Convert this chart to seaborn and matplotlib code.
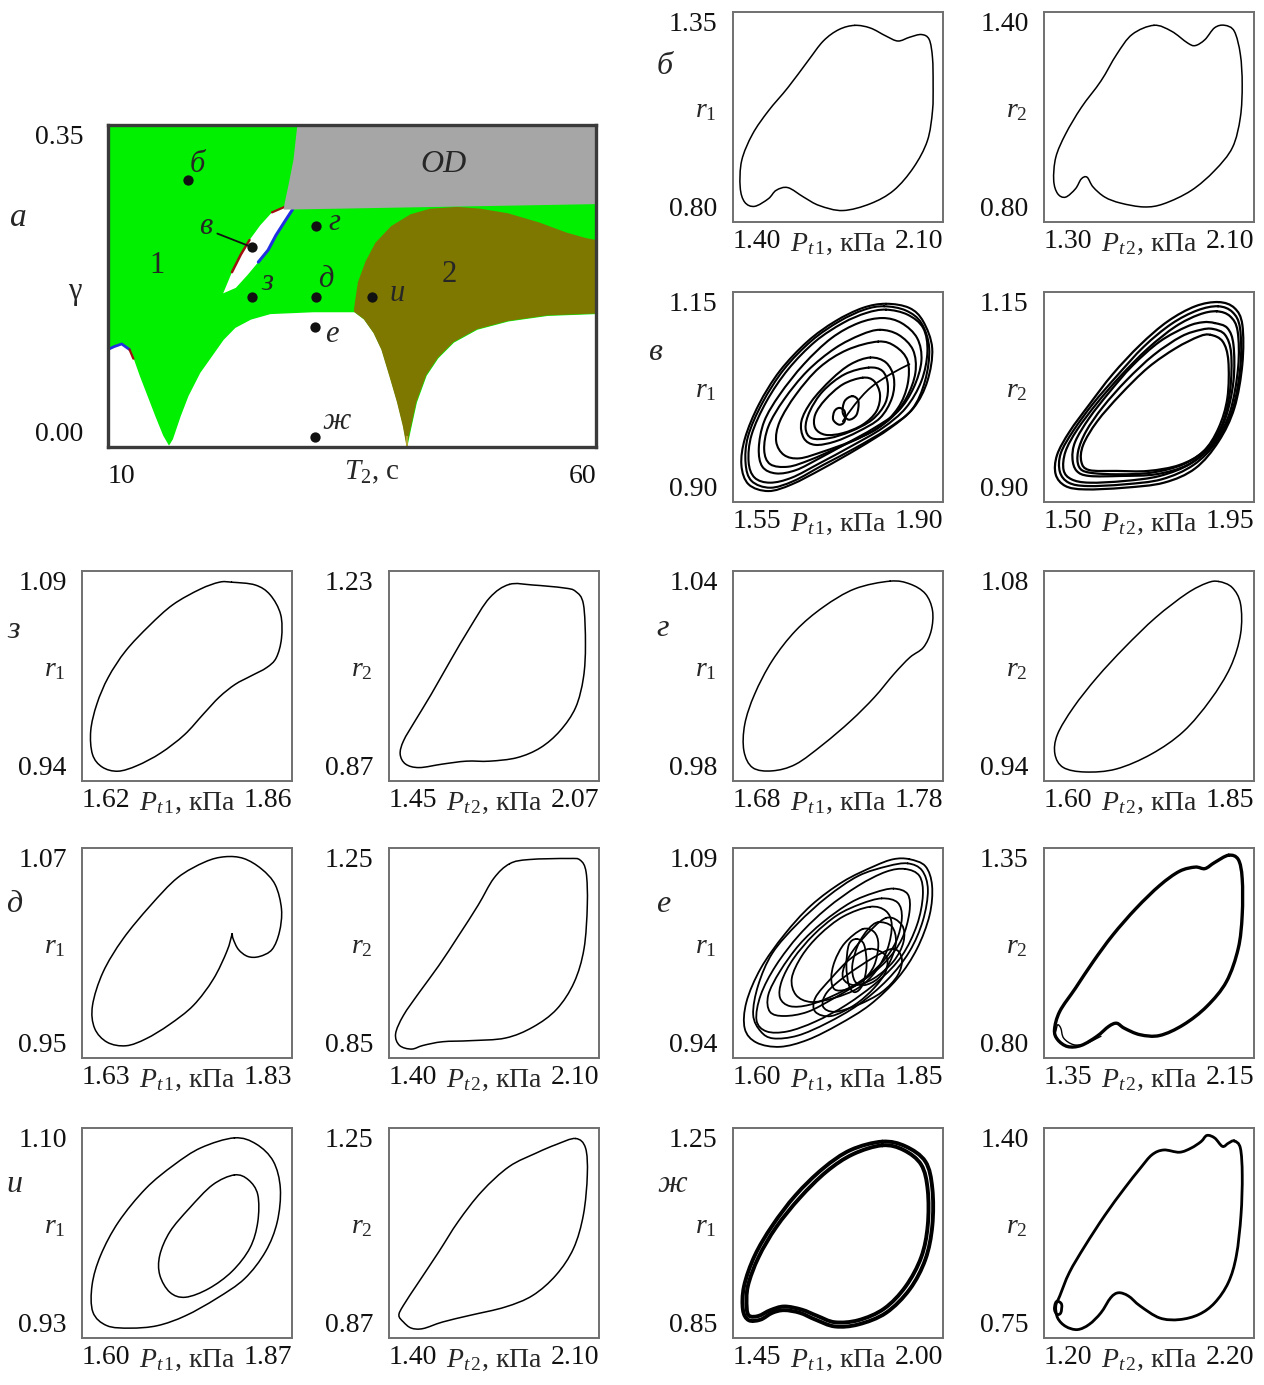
import numpy as np
import matplotlib
matplotlib.use("Agg")
import matplotlib.pyplot as plt
import seaborn as sns
from matplotlib.path import Path
from matplotlib.patches import PathPatch

# ---------------- main map data (T2, gamma) ----------------
WHITE_T2 = [10, 10.6, 11.4, 12.2, 12.6, 13.2, 14.0, 14.8, 15.6, 16.2, 16.6, 17.4, 18.2, 19.4, 20.6,
            21.8, 23.0, 24.6, 26.6, 31.0, 35.2, 36.2, 37.2, 38.0, 38.8, 39.6, 40.2, 40.6, 41.0,
            41.6, 42.6, 43.8, 45.4, 47.8, 51.0, 55.0, 60]
WHITE_G = [0.106, 0.109, 0.112, 0.106, 0.096, 0.078, 0.056, 0.034, 0.013, 0.002, 0.009, 0.034, 0.056,
           0.081, 0.099, 0.117, 0.130, 0.139, 0.145, 0.147, 0.147, 0.139, 0.124, 0.106, 0.078, 0.049,
           0.023, 0.000, 0.020, 0.049, 0.078, 0.097, 0.114, 0.128, 0.137, 0.143, 0.145]
OLIVE_T2 = [35.2, 35.6, 36.4, 37.4, 39.0, 41.0, 43.0, 45.8, 48.2, 51.0, 54.2, 57.0, 59.0, 60]
OLIVE_G = [0.150, 0.179, 0.202, 0.222, 0.240, 0.253, 0.259, 0.261, 0.259, 0.254, 0.244, 0.233, 0.227, 0.225]
GRAY_T2 = [29.4, 29.0, 28.5, 28.1, 28.0, 60, 60]
GRAY_G = [0.35, 0.312, 0.285, 0.265, 0.258, 0.264, 0.35]
LEAF_T2 = [21.8, 22.7, 23.6, 24.5, 25.6, 26.8, 28.1, 28.9, 28.1, 27.2, 26.4, 25.4, 24.3, 23.1]
LEAF_G = [0.167, 0.190, 0.209, 0.225, 0.241, 0.255, 0.261, 0.258, 0.245, 0.230, 0.214, 0.201, 0.187, 0.173]
PT_NAMES = ["б", "в", "г", "з", "д", "и", "е", "ж"]
PT_T2 = [18.2, 24.8, 31.3, 24.8, 31.3, 37.1, 31.2, 31.2]
PT_G = [0.290, 0.217, 0.240, 0.163, 0.163, 0.163, 0.130, 0.011]
LAB_T2 = [19.2, 20.0, 33.2, 26.3, 32.3, 39.6, 32.9, 33.4]
LAB_G = [0.307, 0.240, 0.244, 0.179, 0.182, 0.167, 0.122, 0.028]

# ---------------- phase portraits ----------------
# б
BL_X = [1.806, 1.858, 1.910, 1.950, 1.989, 2.028, 2.054, 2.065, 2.067, 2.065, 2.048, 2.002, 1.936, 1.858,
        1.766, 1.688, 1.636, 1.583, 1.544, 1.518, 1.472, 1.439, 1.424, 1.429, 1.465, 1.518, 1.583, 1.649,
        1.701, 1.753]
BL_Y = [1.315, 1.308, 1.287, 1.274, 1.284, 1.291, 1.278, 1.230, 1.161, 1.091, 1.013, 0.943, 0.883, 0.848,
        0.830, 0.843, 0.865, 0.890, 0.883, 0.861, 0.841, 0.852, 0.891, 0.961, 1.030, 1.091, 1.152, 1.221,
        1.274, 1.304]
BR_X = [1.719, 1.786, 1.846, 1.876, 1.913, 1.950, 1.988, 2.025, 2.048, 2.055, 2.048, 2.018, 1.950, 1.861,
        1.756, 1.681, 1.592, 1.532, 1.487, 1.464, 1.442, 1.420, 1.382, 1.352, 1.337, 1.345, 1.382, 1.442,
        1.517, 1.577, 1.636]
BR_Y = [1.362, 1.345, 1.312, 1.304, 1.321, 1.355, 1.362, 1.345, 1.279, 1.193, 1.099, 1.013, 0.947, 0.890,
        0.852, 0.843, 0.854, 0.871, 0.900, 0.928, 0.923, 0.895, 0.871, 0.881, 0.919, 0.985, 1.051, 1.127,
        1.203, 1.279, 1.336]
# в (chaotic)
VL_LOOPS = [
    ([1.805, 1.844, 1.867, 1.882, 1.874, 1.851, 1.812, 1.759, 1.700, 1.648, 1.609, 1.576, 1.564, 1.570,
      1.593, 1.628, 1.674, 1.720, 1.766],
     [1.136, 1.131, 1.115, 1.083, 1.044, 1.012, 0.988, 0.964, 0.940, 0.921, 0.913, 0.921, 0.944, 0.976,
      1.016, 1.056, 1.091, 1.115, 1.131]),
    ([1.802, 1.838, 1.864, 1.877, 1.870, 1.848, 1.805, 1.753, 1.700, 1.651, 1.612, 1.581, 1.571, 1.575,
      1.599, 1.635, 1.681, 1.727, 1.769],
     [1.133, 1.128, 1.113, 1.083, 1.044, 1.010, 0.986, 0.964, 0.944, 0.925, 0.917, 0.925, 0.946, 0.978,
      1.018, 1.058, 1.092, 1.115, 1.129]),
    ([1.805, 1.841, 1.867, 1.874, 1.864, 1.838, 1.799, 1.746, 1.694, 1.648, 1.612, 1.586, 1.576, 1.581,
      1.606, 1.642, 1.687, 1.733, 1.772],
     [1.129, 1.123, 1.107, 1.079, 1.044, 1.012, 0.988, 0.966, 0.946, 0.929, 0.923, 0.929, 0.948, 0.980,
      1.020, 1.058, 1.091, 1.113, 1.125]),
    ([1.799, 1.831, 1.857, 1.864, 1.851, 1.825, 1.785, 1.740, 1.694, 1.655, 1.622, 1.599, 1.593, 1.602,
      1.628, 1.668, 1.714, 1.759],
     [1.119, 1.113, 1.095, 1.068, 1.036, 1.008, 0.988, 0.970, 0.952, 0.938, 0.934, 0.942, 0.964, 0.996,
      1.028, 1.064, 1.095, 1.113]),
    ([1.795, 1.826, 1.850, 1.854, 1.839, 1.812, 1.771, 1.723, 1.678, 1.642, 1.612, 1.602, 1.609, 1.635,
      1.674, 1.720, 1.763],
     [1.105, 1.099, 1.081, 1.054, 1.024, 0.999, 0.980, 0.964, 0.950, 0.942, 0.945, 0.962, 0.990, 1.022,
      1.056, 1.083, 1.099]),
    ([1.792, 1.821, 1.841, 1.841, 1.825, 1.792, 1.746, 1.700, 1.661, 1.635, 1.622, 1.628, 1.655, 1.694, 1.740],
     [1.091, 1.085, 1.068, 1.040, 1.012, 0.988, 0.972, 0.960, 0.952, 0.956, 0.972, 0.996, 1.028, 1.060, 1.081]),
    ([1.779, 1.805, 1.818, 1.815, 1.795, 1.759, 1.720, 1.687, 1.668, 1.664, 1.681, 1.714, 1.746],
     [1.072, 1.066, 1.048, 1.024, 1.000, 0.984, 0.972, 0.968, 0.976, 0.996, 1.020, 1.046, 1.064]),
    ([1.776, 1.799, 1.808, 1.804, 1.782, 1.746, 1.710, 1.681, 1.671, 1.678, 1.700, 1.736],
     [1.060, 1.056, 1.040, 1.018, 0.998, 0.984, 0.976, 0.976, 0.988, 1.008, 1.032, 1.052]),
    ([1.766, 1.785, 1.795, 1.789, 1.766, 1.733, 1.704, 1.687, 1.687, 1.704, 1.733],
     [1.048, 1.044, 1.028, 1.008, 0.992, 0.982, 0.980, 0.988, 1.004, 1.022, 1.040]),
    ([1.749, 1.759, 1.756, 1.743, 1.733, 1.736],
     [1.026, 1.020, 1.004, 0.998, 1.006, 1.020]),
    ([1.727, 1.736, 1.736, 1.727, 1.717, 1.719],
     [1.012, 1.008, 0.996, 0.992, 0.998, 1.008]),
]
VL_TAIL_X = [1.733, 1.753, 1.779, 1.812, 1.844]
VL_TAIL_Y = [0.996, 1.016, 1.036, 1.052, 1.064]
VR_LOOPS = [
    ([1.874, 1.908, 1.925, 1.925, 1.908, 1.874, 1.824, 1.757, 1.672, 1.588, 1.546, 1.525, 1.528, 1.555,
      1.597, 1.647, 1.706, 1.765, 1.824],
     [1.138, 1.131, 1.111, 1.064, 1.012, 0.972, 0.940, 0.923, 0.917, 0.915, 0.919, 0.933, 0.956, 0.984,
      1.016, 1.052, 1.087, 1.115, 1.133]),
    ([1.873, 1.904, 1.920, 1.921, 1.904, 1.870, 1.820, 1.752, 1.672, 1.593, 1.553, 1.534, 1.536, 1.563,
      1.605, 1.656, 1.714, 1.773, 1.828],
     [1.133, 1.126, 1.107, 1.062, 1.010, 0.972, 0.944, 0.927, 0.921, 0.919, 0.923, 0.936, 0.958, 0.985,
      1.017, 1.050, 1.085, 1.112, 1.128]),
    ([1.870, 1.899, 1.915, 1.916, 1.899, 1.866, 1.815, 1.748, 1.672, 1.597, 1.559, 1.542, 1.546, 1.571,
      1.614, 1.664, 1.723, 1.782, 1.832],
     [1.127, 1.121, 1.103, 1.060, 1.008, 0.972, 0.946, 0.931, 0.925, 0.923, 0.927, 0.938, 0.960, 0.986,
      1.018, 1.050, 1.083, 1.109, 1.123]),
    ([1.866, 1.893, 1.906, 1.906, 1.889, 1.857, 1.807, 1.740, 1.664, 1.597, 1.570, 1.561, 1.567, 1.597,
      1.639, 1.689, 1.748, 1.807, 1.841],
     [1.113, 1.107, 1.087, 1.044, 1.000, 0.966, 0.944, 0.933, 0.931, 0.931, 0.937, 0.952, 0.972, 1.000,
      1.030, 1.062, 1.091, 1.109, 1.114]),
    ([1.862, 1.888, 1.901, 1.899, 1.883, 1.849, 1.799, 1.731, 1.660, 1.597, 1.575, 1.573, 1.590, 1.626,
      1.677, 1.735, 1.794, 1.836],
     [1.106, 1.099, 1.077, 1.034, 0.994, 0.964, 0.945, 0.935, 0.933, 0.935, 0.942, 0.960, 0.984, 1.013,
      1.045, 1.075, 1.097, 1.105]),
    ([1.857, 1.883, 1.895, 1.893, 1.874, 1.841, 1.790, 1.723, 1.656, 1.597, 1.580, 1.584, 1.614, 1.664,
      1.723, 1.782, 1.832],
     [1.099, 1.091, 1.068, 1.024, 0.988, 0.960, 0.944, 0.937, 0.937, 0.938, 0.948, 0.968, 0.996, 1.028,
      1.060, 1.083, 1.097]),
]
# з
ZL_X = [1.791, 1.818, 1.835, 1.847, 1.848, 1.842, 1.831, 1.813, 1.795, 1.777, 1.759, 1.737, 1.710, 1.683,
        1.661, 1.643, 1.632, 1.630, 1.637, 1.650, 1.670, 1.697, 1.724, 1.755, 1.777]
ZL_Y = [1.082, 1.080, 1.073, 1.059, 1.042, 1.028, 1.021, 1.015, 1.009, 1.000, 0.988, 0.973, 0.960, 0.951,
        0.947, 0.950, 0.959, 0.976, 0.995, 1.014, 1.033, 1.051, 1.066, 1.077, 1.082]
ZR_X = [1.805, 1.874, 1.966, 2.001, 2.024, 2.030, 2.024, 2.001, 1.955, 1.897, 1.828, 1.747, 1.678, 1.608,
        1.539, 1.499, 1.483, 1.493, 1.527, 1.574, 1.631, 1.689, 1.747]
ZR_Y = [1.207, 1.206, 1.201, 1.195, 1.173, 1.104, 1.047, 0.996, 0.956, 0.927, 0.910, 0.904, 0.904, 0.899,
        0.893, 0.899, 0.916, 0.939, 0.973, 1.018, 1.076, 1.133, 1.184]
# г
GL_X = [1.7548, 1.7642, 1.7716, 1.7750, 1.7744, 1.7707, 1.7642, 1.7567, 1.7473, 1.7361, 1.7230, 1.7099,
        1.6987, 1.6894, 1.6852, 1.6856, 1.6903, 1.6987, 1.7099, 1.7230, 1.7380]
GL_Y = [1.0371, 1.0363, 1.0335, 1.0287, 1.0230, 1.0182, 1.0153, 1.0106, 1.0039, 0.9972, 0.9905, 0.9848,
        0.9829, 0.9838, 0.9886, 0.9962, 1.0048, 1.0144, 1.0230, 1.0297, 1.0349]
GR_X = [1.808, 1.824, 1.834, 1.834, 1.822, 1.798, 1.766, 1.728, 1.686, 1.649, 1.623, 1.613, 1.616, 1.635,
        1.663, 1.696, 1.733, 1.770, 1.794]
GR_Y = [1.073, 1.069, 1.058, 1.038, 1.016, 0.994, 0.973, 0.958, 0.948, 0.946, 0.949, 0.958, 0.971, 0.989,
        1.009, 1.029, 1.049, 1.065, 1.072]
# д (open loop with a cusp)
DL_X = [1.773, 1.768, 1.755, 1.736, 1.713, 1.691, 1.672, 1.654, 1.642, 1.640, 1.650, 1.669, 1.695, 1.721,
        1.747, 1.766, 1.784, 1.801, 1.814, 1.820, 1.818, 1.811, 1.799, 1.788, 1.779, 1.774, 1.773]
DL_Y = [1.021, 1.011, 0.995, 0.980, 0.969, 0.961, 0.957, 0.959, 0.967, 0.980, 0.999, 1.018, 1.037, 1.053,
        1.062, 1.065, 1.064, 1.058, 1.049, 1.035, 1.022, 1.012, 1.008, 1.008, 1.012, 1.018, 1.021]
DR_X = [1.802, 1.867, 1.998, 2.037, 2.057, 2.061, 2.050, 2.017, 1.959, 1.880, 1.788, 1.671, 1.579, 1.514,
        1.475, 1.435, 1.422, 1.448, 1.501, 1.566, 1.632, 1.697, 1.749]
DR_Y = [1.220, 1.228, 1.230, 1.227, 1.204, 1.141, 1.058, 0.994, 0.943, 0.909, 0.888, 0.883, 0.881, 0.874,
        0.867, 0.874, 0.896, 0.931, 0.975, 1.026, 1.083, 1.141, 1.192]
# е (chaotic)
EL_LOOPS = [
    ([1.810, 1.829, 1.837, 1.834, 1.819, 1.796, 1.763, 1.726, 1.689, 1.656, 1.628, 1.614, 1.616, 1.633,
      1.661, 1.693, 1.731, 1.768, 1.791],
     [1.082, 1.077, 1.063, 1.042, 1.018, 0.997, 0.978, 0.964, 0.953, 0.948, 0.951, 0.961, 0.980, 1.004,
      1.028, 1.049, 1.066, 1.077, 1.082]),
    ([1.808, 1.825, 1.832, 1.826, 1.810, 1.784, 1.749, 1.712, 1.677, 1.648, 1.633, 1.624, 1.630, 1.647,
      1.677, 1.712, 1.749, 1.784],
     [1.079, 1.074, 1.060, 1.038, 1.016, 0.996, 0.978, 0.965, 0.956, 0.954, 0.959, 0.971, 0.992, 1.015,
      1.036, 1.055, 1.070, 1.077]),
    ([1.805, 1.822, 1.826, 1.819, 1.801, 1.773, 1.735, 1.698, 1.665, 1.640, 1.628, 1.633, 1.651, 1.679,
      1.712, 1.749, 1.782],
     [1.075, 1.070, 1.056, 1.035, 1.013, 0.995, 0.978, 0.966, 0.959, 0.959, 0.967, 0.985, 1.006, 1.028,
      1.047, 1.063, 1.073]),
    ([1.791, 1.808, 1.810, 1.801, 1.782, 1.754, 1.721, 1.689, 1.661, 1.644, 1.642, 1.656, 1.679, 1.707,
      1.740, 1.768],
     [1.061, 1.057, 1.044, 1.025, 1.009, 0.995, 0.983, 0.973, 0.970, 0.973, 0.985, 1.002, 1.021, 1.037,
      1.051, 1.058]),
    ([1.777, 1.796, 1.801, 1.794, 1.777, 1.752, 1.721, 1.691, 1.668, 1.656, 1.658, 1.672, 1.696, 1.724, 1.752],
     [1.054, 1.051, 1.040, 1.023, 1.008, 0.995, 0.985, 0.978, 0.977, 0.983, 0.995, 1.011, 1.028, 1.042, 1.050]),
    ([1.763, 1.782, 1.789, 1.784, 1.770, 1.749, 1.721, 1.693, 1.675, 1.670, 1.682, 1.703, 1.731],
     [1.048, 1.045, 1.035, 1.018, 1.002, 0.990, 0.983, 0.980, 0.985, 0.997, 1.013, 1.028, 1.041]),
    ([1.754, 1.768, 1.773, 1.768, 1.754, 1.735, 1.721, 1.717, 1.721, 1.733],
     [1.032, 1.030, 1.021, 1.006, 0.995, 0.989, 0.989, 0.997, 1.009, 1.022]),
    ([1.747, 1.756, 1.759, 1.754, 1.745, 1.738, 1.735, 1.738],
     [1.025, 1.021, 1.006, 0.992, 0.987, 0.992, 1.006, 1.021]),
    ([1.782, 1.801, 1.803, 1.791, 1.768, 1.745, 1.731, 1.735, 1.754],
     [1.040, 1.035, 1.023, 1.009, 0.997, 0.992, 0.997, 1.009, 1.025]),
    ([1.773, 1.789, 1.794, 1.787, 1.773, 1.756, 1.745, 1.742, 1.749, 1.761],
     [1.037, 1.034, 1.023, 1.009, 0.997, 0.992, 0.995, 1.006, 1.021, 1.032]),
    ([1.763, 1.782, 1.782, 1.768, 1.745, 1.717, 1.698, 1.698, 1.717, 1.740],
     [1.018, 1.013, 1.002, 0.990, 0.978, 0.970, 0.973, 0.983, 0.997, 1.011]),
    ([1.791, 1.801, 1.796, 1.777, 1.749, 1.721, 1.707, 1.712, 1.735, 1.768],
     [1.018, 1.011, 0.999, 0.987, 0.978, 0.973, 0.977, 0.987, 0.999, 1.012]),
]
ER_X = [2.053, 2.090, 2.105, 2.105, 2.090, 2.045, 1.970, 1.881, 1.791, 1.716, 1.656, 1.627, 1.597, 1.552,
        1.492, 1.440, 1.402, 1.390, 1.410, 1.470, 1.537, 1.612, 1.701, 1.791, 1.866, 1.926, 1.963, 2.000]
ER_Y = [1.331, 1.320, 1.270, 1.174, 1.087, 1.000, 0.935, 0.887, 0.859, 0.861, 0.878, 0.891, 0.883, 0.857,
        0.833, 0.830, 0.848, 0.874, 0.922, 0.983, 1.052, 1.122, 1.192, 1.252, 1.289, 1.300, 1.296, 1.312]
ER_HOOK_X = [1.395, 1.402, 1.414, 1.425, 1.462, 1.507, 1.567]
ER_HOOK_Y = [0.870, 0.887, 0.878, 0.852, 0.835, 0.837, 0.857]
# и (period-2)
IL_OUT_X = [1.796, 1.824, 1.846, 1.855, 1.851, 1.836, 1.809, 1.773, 1.733, 1.697, 1.662, 1.632, 1.614,
            1.613, 1.624, 1.647, 1.682, 1.718, 1.753]
IL_OUT_Y = [1.092, 1.087, 1.073, 1.051, 1.024, 1.000, 0.978, 0.962, 0.948, 0.940, 0.938, 0.940, 0.951,
            0.973, 0.997, 1.024, 1.051, 1.070, 1.084]
IL_IN_X = [1.796, 1.814, 1.826, 1.826, 1.816, 1.793, 1.763, 1.733, 1.713, 1.700, 1.700, 1.713, 1.738, 1.768]
IL_IN_Y = [1.062, 1.058, 1.046, 1.024, 1.003, 0.984, 0.970, 0.963, 0.967, 0.981, 0.997, 1.016, 1.035, 1.054]
IR_X = [2.022, 2.055, 2.061, 2.048, 2.015, 1.957, 1.879, 1.787, 1.670, 1.579, 1.513, 1.474, 1.448, 1.433,
        1.448, 1.500, 1.566, 1.631, 1.709, 1.800, 1.892, 1.957]
IR_Y = [1.231, 1.214, 1.165, 1.093, 1.032, 0.984, 0.947, 0.926, 0.911, 0.899, 0.887, 0.888, 0.899, 0.911,
        0.929, 0.972, 1.026, 1.081, 1.135, 1.180, 1.205, 1.220]
# ж
JL_LOOPS = [
    ([1.841, 1.902, 1.954, 1.972, 1.972, 1.954, 1.913, 1.851, 1.779, 1.717, 1.666, 1.625, 1.584, 1.553,
      1.522, 1.491, 1.476, 1.479, 1.507, 1.553, 1.614, 1.686, 1.758],
     [1.224, 1.215, 1.186, 1.135, 1.064, 1.000, 0.943, 0.898, 0.876, 0.872, 0.885, 0.898, 0.903, 0.898,
      0.885, 0.884, 0.904, 0.949, 1.007, 1.064, 1.122, 1.173, 1.208]),
    ([1.841, 1.897, 1.943, 1.960, 1.960, 1.943, 1.902, 1.846, 1.779, 1.717, 1.671, 1.630, 1.584, 1.548,
      1.517, 1.493, 1.486, 1.489, 1.517, 1.563, 1.625, 1.695, 1.764],
     [1.217, 1.208, 1.180, 1.132, 1.064, 1.004, 0.948, 0.906, 0.884, 0.880, 0.892, 0.904, 0.910, 0.903,
      0.892, 0.892, 0.908, 0.949, 1.004, 1.061, 1.117, 1.167, 1.200]),
]
JR_X = [2.106, 2.135, 2.144, 2.138, 2.116, 2.078, 2.013, 1.938, 1.845, 1.751, 1.658, 1.602, 1.555, 1.518,
        1.471, 1.415, 1.359, 1.303, 1.265, 1.256, 1.275, 1.321, 1.396, 1.490, 1.583, 1.658, 1.714, 1.770,
        1.845, 1.901, 1.948, 1.976, 2.013, 2.050, 2.078]
JR_Y = [1.360, 1.338, 1.254, 1.130, 1.005, 0.922, 0.859, 0.823, 0.807, 0.812, 0.849, 0.880, 0.890, 0.875,
        0.828, 0.792, 0.776, 0.786, 0.812, 0.849, 0.880, 0.953, 1.036, 1.130, 1.213, 1.275, 1.317, 1.332,
        1.325, 1.338, 1.358, 1.377, 1.369, 1.343, 1.353]
JR_HOOK_X = [1.265, 1.284, 1.280, 1.262, 1.250, 1.254]
JR_HOOK_Y = [0.864, 0.854, 0.828, 0.823, 0.838, 0.857]

LIMITS = {
    "BL": ((1.40, 2.10), (0.80, 1.35)), "BR": ((1.30, 2.10), (0.80, 1.40)),
    "VL": ((1.55, 1.90), (0.90, 1.15)), "VR": ((1.50, 1.95), (0.90, 1.15)),
    "ZL": ((1.62, 1.86), (0.94, 1.09)), "ZR": ((1.45, 2.07), (0.87, 1.23)),
    "GL": ((1.68, 1.78), (0.98, 1.04)), "GR": ((1.60, 1.85), (0.94, 1.08)),
    "DL": ((1.63, 1.83), (0.95, 1.07)), "DR": ((1.40, 2.10), (0.85, 1.25)),
    "EL": ((1.60, 1.85), (0.94, 1.09)), "ER": ((1.35, 2.15), (0.80, 1.35)),
    "IL": ((1.60, 1.87), (0.93, 1.10)), "IR": ((1.40, 2.10), (0.87, 1.25)),
    "JL": ((1.45, 2.00), (0.85, 1.25)), "JR": ((1.20, 2.20), (0.75, 1.40)),
}

# ---------------- style ----------------
sns.set_theme(style="white")
plt.rcParams["font.family"] = ["Liberation Serif", "DejaVu Serif"]
plt.rcParams["mathtext.fontset"] = "custom"
plt.rcParams["mathtext.rm"] = "Liberation Serif"
plt.rcParams["mathtext.it"] = "Liberation Serif:italic"
plt.rcParams["mathtext.bf"] = "Liberation Serif:bold"

W, H = 1264, 1385
fig = plt.figure(figsize=(W / 100, H / 100), dpi=100)
fig.patch.set_facecolor("white")
FS = 20


def px_axes(x0, y0, w, h):
    return fig.add_axes([x0 / W, 1 - (y0 + h) / H, w / W, h / H])


def smooth_path(xs, ys, closed=True):
    P = np.column_stack([xs, ys]).astype(float)
    n = len(P)
    verts = [P[0]]
    codes = [Path.MOVETO]
    nseg = n if closed else n - 1
    for i in range(nseg):
        p1 = P[i]
        p2 = P[(i + 1) % n]
        p0 = P[i - 1] if (closed or i > 0) else P[i]
        p3 = P[(i + 2) % n] if (closed or i + 2 < n) else P[i + 1]
        verts += [p1 + (p2 - p0) / 6.0, p2 - (p3 - p1) / 6.0, p2]
        codes += [Path.CURVE4] * 3
    return Path(verts, codes)


def draw_curve(ax, xs, ys, lw=1.0, closed=True, color="black"):
    ax.add_patch(PathPatch(smooth_path(xs, ys, closed), fill=False, edgecolor=color,
                           lw=lw, joinstyle="round", capstyle="round"))


def setup_small(ax, key, rlab, xlab):
    xlim, ylim = LIMITS[key]
    ax.set_xlim(xlim)
    ax.set_ylim(ylim)
    ax.set_facecolor("white")
    ax.set_xticks(list(xlim))
    ax.set_xticklabels([f"{v:.2f}" for v in xlim])
    ax.set_yticks(list(ylim))
    ax.set_yticklabels([f"{v:.2f}" for v in ylim])
    ax.tick_params(axis="x", length=0, labelsize=FS, pad=5, colors="#111111")
    ax.tick_params(axis="y", length=0, labelsize=FS, pad=11, colors="#111111")
    xl = ax.get_xticklabels()
    xl[0].set_ha("left")
    xl[1].set_ha("right")
    yl = ax.get_yticklabels()
    yl[0].set_va("bottom")
    yl[1].set_va("top")
    for s in ax.spines.values():
        s.set_color("#707070")
        s.set_linewidth(1.4)
    ax.grid(False)
    ax.text(-0.13, 0.53, rlab, transform=ax.transAxes, ha="center", va="center", fontsize=FS)
    ax.text(0.5, -0.045, xlab, transform=ax.transAxes, ha="center", va="top", fontsize=FS)


# ---------------- main panel ----------------
axm = px_axes(108, 125, 488, 322)
axm.set_xlim(10, 60)
axm.set_ylim(0, 0.35)
axm.set_facecolor("#00f000")
olive = "#7f7800"
axm.fill_between(WHITE_T2, 0, WHITE_G, color="white", lw=0, zorder=1)
wt = np.array(WHITE_T2)
wg = np.array(WHITE_G)
mask = wt >= 35.2
poly_x = list(OLIVE_T2) + list(wt[mask][::-1])
poly_y = list(OLIVE_G) + list(wg[mask][::-1])
axm.fill(poly_x, poly_y, color=olive, lw=0, zorder=2)
axm.vlines(40.6, 0, 0.012, color="#b0a830", lw=1.5, zorder=2)
axm.fill(LEAF_T2, LEAF_G, color="white", lw=0, zorder=3)
axm.plot(LEAF_T2[7:12], LEAF_G[7:12], color="#2030e0", lw=2.2, zorder=3)
axm.plot(LEAF_T2[1:4], LEAF_G[1:4], color="#a01010", lw=1.8, zorder=3)
axm.plot(LEAF_T2[5:7], LEAF_G[5:7], color="#a01010", lw=1.6, zorder=3)
axm.fill(GRAY_T2, GRAY_G, color="#a6a6a6", lw=0, zorder=4)
axm.plot(WHITE_T2[0:4], WHITE_G[0:4], color="#2030e0", lw=2.0, zorder=3)
axm.plot(WHITE_T2[3:5], WHITE_G[3:5], color="#a01010", lw=1.6, zorder=3)
sns.scatterplot(x=PT_T2, y=PT_G, ax=axm, color="#111111", s=55, edgecolor="#111111",
                linewidth=0, zorder=6, legend=False)
for name, tx, ty in zip(PT_NAMES, LAB_T2, LAB_G):
    axm.text(tx, ty, name, fontsize=FS + 2, style="italic", ha="center", va="center", zorder=7)
axm.plot([21.2, PT_T2[1]], [0.232, PT_G[1]], color="#111111", lw=1.3, zorder=6)
axm.text(44.4, 0.307, "OD", fontsize=FS + 3, style="italic", ha="center", va="center", zorder=7)
axm.text(15.0, 0.197, "1", fontsize=FS + 2, ha="center", va="center", zorder=7)
axm.text(45.0, 0.187, "2", fontsize=FS + 2, ha="center", va="center", zorder=7)
axm.set_xticks([10, 60])
axm.set_xticklabels(["10", "60"])
axm.set_yticks([0, 0.35])
axm.set_yticklabels(["0.00", "0.35"])
axm.tick_params(axis="x", length=0, labelsize=FS, pad=12, colors="#111111")
axm.tick_params(axis="y", length=0, labelsize=FS, pad=18, colors="#111111")
xl = axm.get_xticklabels()
xl[0].set_ha("left")
xl[1].set_ha("right")
yl = axm.get_yticklabels()
yl[0].set_va("bottom")
yl[1].set_va("top")
for s in axm.spines.values():
    s.set_color("#3a3a3a")
    s.set_linewidth(2.4)
    s.set_zorder(10)
axm.grid(False)
axm.text(0.54, -0.035, r"$T_{\mathrm{2}}$, с", transform=axm.transAxes, ha="center", va="top", fontsize=FS + 1)
fig.text(18 / W, 1 - 218 / H, "а", fontsize=FS + 4, style="italic", ha="center", va="center")
fig.text(75 / W, 1 - 292 / H, "γ", fontsize=FS + 2, ha="center", va="center")

# ---------------- small panels ----------------
COLS = [82, 389, 733, 1044]
ROWS = [12, 292, 571, 848, 1128]
PW, PH = 210, 210
XL1 = r"$P_{t\,\mathrm{1}}$, кПа"
XL2 = r"$P_{t\,\mathrm{2}}$, кПа"
R1 = r"$r_{\mathrm{1}}$"
R2 = r"$r_{\mathrm{2}}$"

panels = {}
layout = {"BL": (0, 2), "BR": (0, 3), "VL": (1, 2), "VR": (1, 3),
          "ZL": (2, 0), "ZR": (2, 1), "GL": (2, 2), "GR": (2, 3),
          "DL": (3, 0), "DR": (3, 1), "EL": (3, 2), "ER": (3, 3),
          "IL": (4, 0), "IR": (4, 1), "JL": (4, 2), "JR": (4, 3)}
for key, (r, c) in layout.items():
    ax = px_axes(COLS[c], ROWS[r], PW, PH)
    left = key.endswith("L")
    setup_small(ax, key, R1 if left else R2, XL1 if left else XL2)
    panels[key] = ax

draw_curve(panels["BL"], BL_X, BL_Y, lw=1.1)
draw_curve(panels["BR"], BR_X, BR_Y, lw=1.1)
for xs, ys in VL_LOOPS:
    draw_curve(panels["VL"], xs, ys, lw=1.5)
draw_curve(panels["VL"], VL_TAIL_X, VL_TAIL_Y, lw=1.3, closed=False)
for xs, ys in VR_LOOPS:
    draw_curve(panels["VR"], xs, ys, lw=1.6)
draw_curve(panels["ZL"], ZL_X, ZL_Y, lw=1.1)
draw_curve(panels["ZR"], ZR_X, ZR_Y, lw=1.1)
draw_curve(panels["GL"], GL_X, GL_Y, lw=1.1)
draw_curve(panels["GR"], GR_X, GR_Y, lw=1.1)
draw_curve(panels["DL"], DL_X, DL_Y, lw=1.1, closed=False)
draw_curve(panels["DR"], DR_X, DR_Y, lw=1.1)
for xs, ys in EL_LOOPS:
    draw_curve(panels["EL"], xs, ys, lw=1.3)
draw_curve(panels["ER"], ER_X, ER_Y, lw=2.4)
draw_curve(panels["ER"], ER_HOOK_X, ER_HOOK_Y, lw=1.0, closed=False)
draw_curve(panels["IL"], IL_OUT_X, IL_OUT_Y, lw=1.1)
draw_curve(panels["IL"], IL_IN_X, IL_IN_Y, lw=1.1)
draw_curve(panels["IR"], IR_X, IR_Y, lw=1.1)
for xs, ys in JL_LOOPS:
    draw_curve(panels["JL"], xs, ys, lw=2.8)
draw_curve(panels["JR"], JR_X, JR_Y, lw=2.0)
draw_curve(panels["JR"], JR_HOOK_X, JR_HOOK_Y, lw=2.0)

# panel letters
LETTERS = [("б", 665, 67), ("в", 655, 352), ("з", 14, 630), ("г", 663, 628),
           ("д", 14, 905), ("е", 663, 905), ("и", 14, 1185), ("ж", 672, 1185)]
for t, x, y in LETTERS:
    fig.text(x / W, 1 - y / H, t, fontsize=FS + 3, style="italic", ha="center", va="center")

fig.savefig("out.png", dpi=100, facecolor="white")
